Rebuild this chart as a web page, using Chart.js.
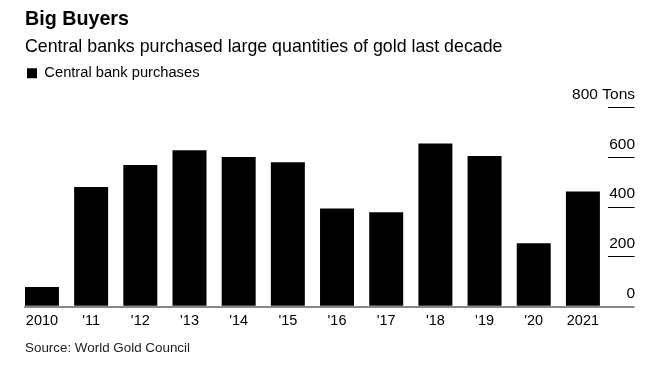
<!DOCTYPE html>
<html>
<head>
<meta charset="utf-8">
<script src="https://cdn.jsdelivr.net/npm/chart.js@4"></script>
<style>
  html, body { margin: 0; padding: 0; background: #fff; }
  canvas { display: block; }
</style>
</head>
<body>
<canvas id="c" width="664" height="378"></canvas>
<script>
// ---- data ----
const categories = ["2010", "'11", "'12", "'13", "'14", "'15", "'16", "'17", "'18", "'19", "'20", "2021"];
const purchases = [79, 481, 569, 629, 601, 580, 395, 379, 656, 605, 255, 463];
const yTicks = [0, 200, 400, 600, 800];
const yUnit = "Tons";
const seriesName = "Central bank purchases";
const titleText = "Big Buyers";
const subtitleText = "Central banks purchased large quantities of gold last decade";
const sourceText = "Source: World Gold Council";

const FONT = "'Liberation Sans', Arial, Helvetica, sans-serif";
Chart.defaults.font.family = FONT;
Chart.defaults.color = '#000';

const points = purchases.map((v, i) => ({ x: i, y: v }));

new Chart(document.getElementById('c'), {
  type: 'bar',
  data: {
    datasets: [{
      label: seriesName,
      data: points,
      backgroundColor: '#000',
      borderWidth: 0,
      categoryPercentage: 0.691,
      barPercentage: 1
    }]
  },
  options: {
    responsive: false,
    animation: false,
    devicePixelRatio: 1,
    layout: { padding: { left: 25, right: 29.5, top: 0, bottom: 21.2 } },
    plugins: {
      title: {
        display: true, text: titleText, align: 'start', color: '#000',
        font: { size: 19.7, weight: 'bold', lineHeight: 1.2 },
        padding: { top: 8.2, bottom: 0 }
      },
      subtitle: {
        display: true, text: subtitleText, align: 'start', color: '#000',
        font: { size: 17.8, weight: 'normal', lineHeight: 1.2 },
        padding: { top: 4.3, bottom: 6.3 }
      },
      legend: {
        display: true, position: 'top', align: 'start',
        labels: { boxWidth: 10, boxHeight: 10, padding: 2, color: '#000', font: { size: 14.7 } }
      },
      tooltip: { enabled: false }
    },
    scales: {
      x: {
        type: 'linear', min: -0.345, max: 11.5, offset: false,
        grid: { display: false, drawTicks: false },
        border: { display: true, color: '#888', width: 2 },
        ticks: {
          stepSize: 1, includeBounds: false, autoSkip: false, maxRotation: 0, minRotation: 0,
          padding: 5.8, color: '#000', font: { size: 14.5 },
          callback: (v) => Number.isInteger(v) ? categories[v] : ''
        },
        title: {
          display: true, text: sourceText, align: 'start', color: '#222',
          font: { size: 13.4, lineHeight: 1.2 }, padding: { top: 5.0, bottom: 0 }
        }
      },
      y: {
        type: 'linear', position: 'right', min: 0, max: 868.5,
        afterBuildTicks: (scale) => { scale.ticks = yTicks.map(v => ({ value: v })); },
        afterFit: (scale) => { scale.width = 27; },
        border: { display: false },
        grid: {
          display: true, drawOnChartArea: false, drawTicks: true, tickLength: 27,
          color: (ctx) => (ctx.tick && ctx.tick.value === 0) ? '#888' : '#000',
          lineWidth: (ctx) => (ctx.tick && ctx.tick.value === 0) ? 2 : 1
        },
        ticks: {
          mirror: true, padding: 27.5, labelOffset: -13, color: '#000', font: { size: 15.5 },
          callback: (v) => v === yTicks[yTicks.length - 1] ? v + ' ' + yUnit : String(v)
        }
      }
    }
  }
});
</script>
</body>
</html>
